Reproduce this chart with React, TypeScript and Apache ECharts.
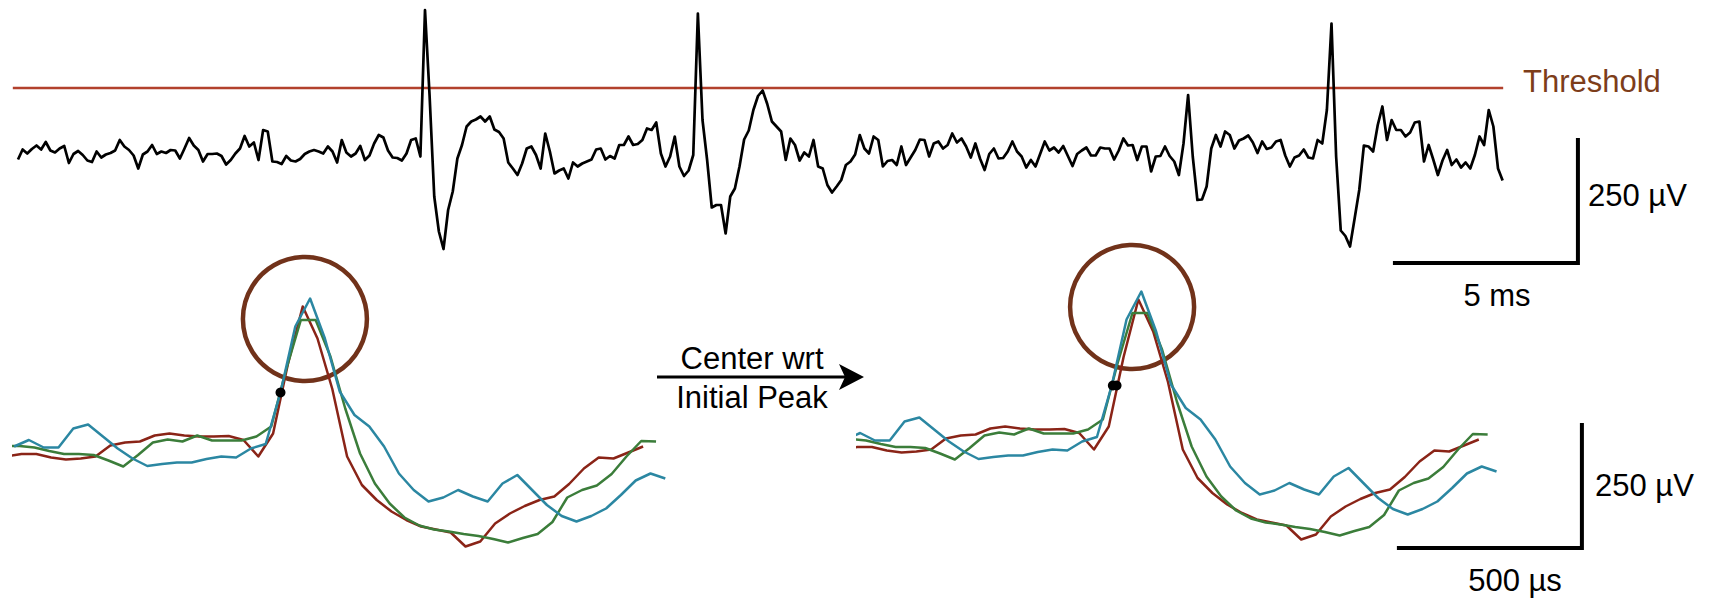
import React, { useEffect, useRef } from "react";
import * as echarts from "echarts";

// ---------- data ----------
// Top raw trace: one value (µV) every TOP_STEP_MS
const TOP_STEP_MS = 0.125;
const TOP_TRACE_UV = [
  -43, -23, -31, -22, -15, -23, -8, -25, -29, -21,
  -16, -50, -32, -26, -34, -45, -48, -27, -39, -33,
  -30, -25, -4, -17, -24, -35, -61, -33, -27, -14,
  -32, -27, -30, -24, -25, -41, -21, 0, -15, -24,
  -47, -32, -32, -31, -36, -53, -44, -31, -21, 4,
  -17, -9, -44,
  16, 13, -47, -48, -52, -36, -45, -47, -42, -32,
  -27, -24, -27, -31, -17, -27, -49, -4, -29, -37,
  -31, -16, -44, -35, -11, 6, 1, -25, -39, -40,
  -45, -31, -4, -1, -37,
  256, 83, -117, -187, -222, -144, -107, -41, -14, 23,
  33, 37, 43, 33, 43, 17, 12, -1, -49,
  -61, -74, -51, -21, -17, -34, -61, 9, -27, -71,
  -65, -61, -81, -49, -57, -51, -47, -43, -23, -21,
  -43, -36, -41, -14, -14, 3, -14, -12, -4, 19,
  16, 31, -31, -57, -37, 3, -57, -76, -65, -34,
  249, 36, -44, -139, -134, -134, -191, -117, -101, -57,
  -3, 15, 56, 84,
  95, 68, 33, 23, 13, -44, -1, -14, -45, -29,
  -37, -4, -57, -61, -94, -109, -97, -84, -54, -47,
  -33, 6, -21, -31, 3, -4, -57, -46, -44, -54,
  -17, -54, -39, -24, -3, -4, -37, -11, -7, -21,
  -14, 9, -9, -1, -17, -39, -11, -41, -64, -32,
  -21, -41, -40, -27,
  -7, -27, -37, -59, -44, -57, -32, -7, -25, -19,
  -29, -16, -36, -56, -32, -25, -19, -35, -35, -19,
  -21, -21, -43, -25, -1, -15, -14, -44, -17, -17,
  -67, -37, -36, -17, -36, -47, -74, -11, 86, -37,
  -124, -123, -97, -21, 6, -17, 13, 6, -21, -5,
  -1, 5, -9, -30,
  -7, -22, -19, -7, -4, -35, -57, -39, -35, -23,
  -39, -41, -4, -11, 56, 229, -37, -185, -196, -217,
  -161, -104, -15, -17, -27, 26, 63, -4, 36, 16,
  16, 3, 11, 31, 33, -47, -14, -43, -74, -45,
  -24, -54, -43, -59, -49, -61, -34, 3, -14, 56,
  23, -61, -85,
];
const THRESHOLD_UV = 100;
const THRESHOLD_SPAN_MS = [-0.14, 40.14];
const TOP_SCALE_MS = 5;
const TOP_SCALE_UV = 250;
const TOP_SCALE_END_MS = 42.16;

// Three extracted waveforms: one value (µV) every WAVE_STEP_US
const WAVE_STEP_US = 40;
const RED_UV = [
  -63, -58, -58, -65, -69, -67, -63, -41, -35, -33,
  -21, -17, -21, -23, -23, -22, -30, -63, -17, 122,
  237, 173, 72, -63, -120, -150, -173, -190, -203, -209,
  -215, -243, -233, -197, -177, -162, -150, -143, -118, -87,
  -65, -67, -55, -43,
];
const GREEN_UV = [
  -42, -42, -45, -52, -58, -58, -60, -71, -83, -60,
  -35, -29, -33, -21, -31, -31, -31, -23, -3, 110,
  210, 210, 137, 33, -57, -117, -157, -185, -201, -209,
  -213, -218, -222, -228, -235, -226, -218, -194, -145, -130,
  -121, -98, -63, -32, -33,
];
const BLUE_UV = [
  -43, -30, -45, -45, -7, 1, -23, -47, -67, -82,
  -78, -75, -75, -68, -63, -65, -47, -38, 65, 197,
  253, 173, 67, 20, -3, -43, -97, -130, -153, -145,
  -130, -143, -153, -117, -100, -130, -160, -182, -193, -182,
  -167, -140, -111, -97, -107,
];
// start time (µs) of each waveform relative to the marked crossing
const LEFT_START_US = [-740, -745, -720]; // red, green, blue
const RIGHT_START_US = [-736, -752, -728];
const DOT_UV = 65;
const LEFT_DOT_US = [0];
const RIGHT_DOT_US = [-5, 5];
const LEFT_CIRCLE = [66, 212];
const RIGHT_CIRCLE = [47, 222];
const BOTTOM_SCALE_US = 500;
const BOTTOM_SCALE_UV = 250;
const BOTTOM_SCALE_END_US = 1262.7;
const BOTTOM_SCALE_TOP_UV = -10;

// ---------- styles ----------
const RED = "#8a2417";
const GREEN = "#3b7d3a";
const BLUE = "#2b87a2";
const BROWN = "#71321a";
const THRESH = "#b2412d";
const FONT = '"Liberation Sans", Arial, Helvetica, sans-serif';

function waveSeries(values: number[], start: number, color: string, idx: number) {
  return {
    type: "line",
    xAxisIndex: idx,
    yAxisIndex: idx,
    data: values.map((v, k) => [start + k * WAVE_STEP_US, v]),
    symbol: "none",
    silent: true,
    lineStyle: { color, width: 2.5, join: "round", opacity: 1 },
    z: 3,
  };
}

function circleSeries(c: number[], idx: number) {
  return {
    type: "scatter",
    xAxisIndex: idx,
    yAxisIndex: idx,
    data: [c],
    symbol: "circle",
    symbolSize: 124,
    silent: true,
    clip: false,
    itemStyle: { color: "rgba(0,0,0,0)", borderColor: BROWN, borderWidth: 4.5, opacity: 1 },
    z: 2,
  };
}

function dotSeries(times: number[], idx: number) {
  return {
    type: "scatter",
    xAxisIndex: idx,
    yAxisIndex: idx,
    data: times.map((t) => [t, DOT_UV]),
    symbol: "circle",
    symbolSize: 10,
    silent: true,
    itemStyle: { color: "#000", opacity: 1 },
    z: 5,
  };
}

function text(x: number, y: number, t: string, align: string, fill = "#000") {
  return {
    type: "text",
    x,
    y,
    silent: true,
    style: {
      text: t,
      fill,
      fontSize: 31,
      fontFamily: FONT,
      align,
      verticalAlign: "middle",
    },
  };
}

export default function App() {
  const ref = useRef<HTMLDivElement>(null);
  useEffect(() => {
    if (!ref.current) return;
    const chart = echarts.init(ref.current, null, { renderer: "svg" });
    const hiddenAxis = (min: number, max: number, gridIndex: number) => ({
      type: "value",
      gridIndex,
      min,
      max,
      show: false,
    });
    chart.setOption({
      animation: false,
      backgroundColor: "#ffffff",
      grid: [
        { left: 3.2, top: 0, width: 1642.8, height: 280 },
        { left: 14.1, top: 240, width: 654.9, height: 320 },
        { left: 857.55, top: 240, width: 738.15, height: 320 },
      ],
      xAxis: [hiddenAxis(-0.4, 44, 0), hiddenAxis(-720, 1050, 1), hiddenAxis(-695, 1300, 2)],
      yAxis: [hiddenAxis(-284, 276, 0), hiddenAxis(-270, 370, 1), hiddenAxis(-284, 356, 2)],
      series: [
        {
          type: "line",
          xAxisIndex: 0,
          yAxisIndex: 0,
          data: THRESHOLD_SPAN_MS.map((t) => [t, THRESHOLD_UV]),
          symbol: "none",
          silent: true,
          lineStyle: { color: THRESH, width: 2.5 },
        },
        {
          type: "line",
          xAxisIndex: 0,
          yAxisIndex: 0,
          data: TOP_TRACE_UV.map((v, i) => [i * TOP_STEP_MS, v]),
          symbol: "none",
          silent: true,
          lineStyle: { color: "#000", width: 2.7, join: "round" },
          z: 3,
        },
        {
          type: "line",
          xAxisIndex: 0,
          yAxisIndex: 0,
          data: [
            [TOP_SCALE_END_MS, 0],
            [TOP_SCALE_END_MS, -TOP_SCALE_UV],
            [TOP_SCALE_END_MS - TOP_SCALE_MS, -TOP_SCALE_UV],
          ],
          symbol: "none",
          silent: true,
          lineStyle: { color: "#000", width: 4, join: "miter" },
        },
        circleSeries(LEFT_CIRCLE, 1),
        waveSeries(RED_UV, LEFT_START_US[0], RED, 1),
        waveSeries(GREEN_UV, LEFT_START_US[1], GREEN, 1),
        waveSeries(BLUE_UV, LEFT_START_US[2], BLUE, 1),
        dotSeries(LEFT_DOT_US, 1),
        circleSeries(RIGHT_CIRCLE, 2),
        waveSeries(RED_UV, RIGHT_START_US[0], RED, 2),
        waveSeries(GREEN_UV, RIGHT_START_US[1], GREEN, 2),
        waveSeries(BLUE_UV, RIGHT_START_US[2], BLUE, 2),
        dotSeries(RIGHT_DOT_US, 2),
        {
          type: "line",
          xAxisIndex: 2,
          yAxisIndex: 2,
          data: [
            [BOTTOM_SCALE_END_US, BOTTOM_SCALE_TOP_UV],
            [BOTTOM_SCALE_END_US, BOTTOM_SCALE_TOP_UV - BOTTOM_SCALE_UV],
            [BOTTOM_SCALE_END_US - BOTTOM_SCALE_US, BOTTOM_SCALE_TOP_UV - BOTTOM_SCALE_UV],
          ],
          symbol: "none",
          silent: true,
          lineStyle: { color: "#000", width: 4, join: "miter" },
        },
      ],
      graphic: [
        text(1523, 81, "Threshold", "left", "#7d3d1a"),
        text(1588, 195, "250 µV", "left"),
        text(1497, 295, "5 ms", "center"),
        text(752, 358, "Center wrt", "center"),
        text(752, 397, "Initial Peak", "center"),
        {
          type: "line",
          silent: true,
          shape: { x1: 657, y1: 377, x2: 848, y2: 377 },
          style: { stroke: "#000", lineWidth: 3 },
        },
        {
          type: "polygon",
          silent: true,
          shape: { points: [[839, 364], [864, 377], [839, 390], [845, 377]] },
          style: { fill: "#000" },
        },
        text(1595, 485, "250 µV", "left"),
        text(1515, 580, "500 µs", "center"),
      ],
    });
    return () => chart.dispose();
  }, []);
  return (
    <div
      ref={ref}
      style={{ position: "absolute", left: 0, top: 0, width: 1717, height: 599, background: "#fff" }}
    />
  );
}
